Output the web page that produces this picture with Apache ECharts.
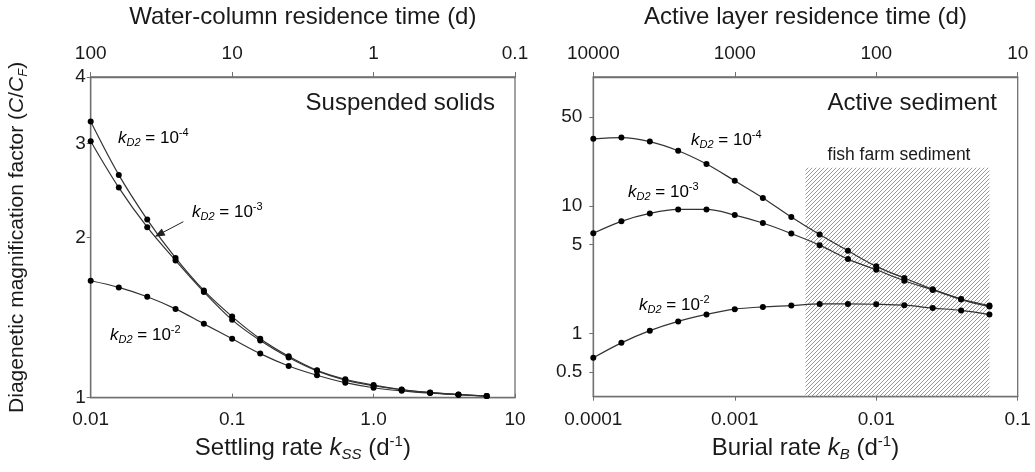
<!DOCTYPE html>
<html>
<head>
<meta charset="utf-8">
<script src="https://cdn.jsdelivr.net/npm/echarts@6/dist/echarts.min.js"></script>
<style>
html,body{margin:0;padding:0;background:#fff;}
#chart{width:1035px;height:472px;}
</style>
</head>
<body>
<div id="chart"></div>
<script>
// ---- data ----
const kSS = [0.01, 0.0158, 0.0251, 0.0398, 0.0631, 0.1, 0.158, 0.251, 0.398, 0.631, 1.0, 1.58, 2.51, 3.98, 6.31];
const kB = [0.0001, 0.000158, 0.000251, 0.000398, 0.000631, 0.001, 0.00158, 0.00251, 0.00398, 0.00631, 0.01, 0.0158, 0.0251, 0.0398, 0.0631];

const suspended_kD2_1e4 = [3.30, 2.62, 2.16, 1.83, 1.59, 1.42, 1.29, 1.196, 1.126, 1.083, 1.056, 1.036, 1.023, 1.014, 1.007];
const suspended_kD2_1e3 = [3.03, 2.48, 2.09, 1.81, 1.58, 1.40, 1.28, 1.19, 1.123, 1.079, 1.053, 1.035, 1.022, 1.013, 1.007];
const suspended_kD2_1e2 = [1.658, 1.611, 1.547, 1.468, 1.376, 1.290, 1.210, 1.147, 1.102, 1.067, 1.044, 1.030, 1.020, 1.013, 1.007];

const active_kD2_1e4 = [33.7, 34.5, 32.1, 27.2, 21.4, 15.8, 11.6, 8.21, 5.98, 4.46, 3.37, 2.73, 2.23, 1.87, 1.66];
const active_kD2_1e3 = [6.12, 7.6, 8.77, 9.42, 9.42, 8.51, 7.37, 6.09, 4.94, 3.84, 3.17, 2.60, 2.20, 1.85, 1.63];
const active_kD2_1e2 = [0.646, 0.846, 1.055, 1.247, 1.414, 1.556, 1.62, 1.66, 1.71, 1.71, 1.70, 1.67, 1.585, 1.52, 1.41];

// fish farm sediment range (burial rate) and upper bound of shaded box
const fishFarmRange = [0.00316, 0.0631];
const fishFarmTop = 20;

// tick labels
const leftBottomTicks = [0.01, 0.1, 1, 10];
const leftBottomLabels = ['0.01', '0.1', '1.0', '10'];
const leftTopTicks = [100, 10, 1, 0.1];
const leftTopLabels = ['100', '10', '1', '0.1'];
const leftYTicks = [1, 2, 3, 4];
const rightBottomTicks = [0.0001, 0.001, 0.01, 0.1];
const rightBottomLabels = ['0.0001', '0.001', '0.01', '0.1'];
const rightTopTicks = [10000, 1000, 100, 10];
const rightTopLabels = ['10000', '1000', '100', '10'];
const rightYTicks = [0.5, 1, 5, 10, 50];
const rightYLabels = ['0.5', '1', '5', '10', '50'];

// ---- rendering ----
const FONT = '"Liberation Sans", Arial, Helvetica, sans-serif';
const TXT = '#1a1a1a';
const AXC = '#707070';
const LINEC = '#333333';

function labelFor(ticks, labels) {
  return function (v) {
    for (let i = 0; i < ticks.length; i++) {
      if (Math.abs(Math.log10(v) - Math.log10(ticks[i])) < 1e-6) return labels[i];
    }
    return '';
  };
}

function richStyles(size) {
  const s = Math.round(size * 0.62);
  return {
    t: { fontSize: size, fontFamily: FONT, color: TXT, lineHeight: size + 4 },
    i: { fontSize: size, fontFamily: FONT, color: TXT, fontStyle: 'italic', lineHeight: size + 4 },
    sub: { fontSize: s, fontFamily: FONT, color: TXT, fontStyle: 'italic', lineHeight: s, verticalAlign: 'bottom' },
    subn: { fontSize: s, fontFamily: FONT, color: TXT, lineHeight: s, verticalAlign: 'bottom' },
    sup: { fontSize: s, fontFamily: FONT, color: TXT, lineHeight: s, verticalAlign: 'top' }
  };
}

function axisCommon(extra) {
  return Object.assign({
    type: 'log',
    logBase: 10,
    axisLine: { show: true, onZero: false, lineStyle: { color: AXC, width: 1.3 } },
    splitLine: { show: false },
    minorTick: { show: false }
  }, extra);
}

// hatch pattern
const pc = document.createElement('canvas');
pc.width = 4; pc.height = 4;
const pctx = pc.getContext('2d');
pctx.strokeStyle = '#8c8c8c';
pctx.lineWidth = 0.9;
pctx.beginPath();
pctx.moveTo(0, 4); pctx.lineTo(4, 0);
pctx.moveTo(-1, 1); pctx.lineTo(1, -1);
pctx.moveTo(3, 5); pctx.lineTo(5, 3);
pctx.stroke();

function lineSeries(name, xi, yi, xs, ys, extra) {
  return Object.assign({
    name: name,
    type: 'line',
    xAxisIndex: xi,
    yAxisIndex: yi,
    data: xs.map((x, i) => [x, ys[i]]),
    smooth: 0.35,
    symbol: 'circle',
    symbolSize: 6,
    itemStyle: { color: '#000' },
    lineStyle: { color: LINEC, width: 1.2 },
    z: 3,
    silent: true
  }, extra || {});
}

function kLabel(x, y, exp) {
  return {
    type: 'text', x: x, y: y, z: 10,
    style: {
      text: '{i|k}{sub|D2}{t| = 10}{sup|' + exp + '}',
      rich: richStyles(17),
      textVerticalAlign: 'middle',
      textAlign: 'left'
    }
  };
}

const chart = echarts.init(document.getElementById('chart'), null, { renderer: 'canvas' });

const option = {
  backgroundColor: '#fff',
  animation: false,
  grid: [
    { left: 90.7, top: 75, width: 424.3, height: 322.7, show: true, borderColor: AXC, borderWidth: 1.3, containLabel: false },
    { left: 593.3, top: 75, width: 424.4, height: 321.7, show: true, borderColor: AXC, borderWidth: 1.3, containLabel: false }
  ],
  xAxis: [
    axisCommon({
      gridIndex: 0, position: 'bottom', min: 0.01, max: 10,
      axisTick: { show: true, length: 4, inside: true, customValues: leftBottomTicks, lineStyle: { color: AXC } },
      axisLabel: { customValues: leftBottomTicks, formatter: labelFor(leftBottomTicks, leftBottomLabels), margin: 13, fontSize: 19, fontFamily: FONT, color: TXT },
      name: '{t|Settling rate }{i|k}{sub|SS}{t| (d}{sup|-1}{t|)}',
      nameLocation: 'middle', nameGap: 36,
      nameTextStyle: { rich: richStyles(24) }
    }),
    axisCommon({
      gridIndex: 0, position: 'top', inverse: true, min: 0.1, max: 100,
      axisTick: { show: true, length: 5, customValues: leftTopTicks, lineStyle: { color: AXC } },
      axisLabel: { customValues: leftTopTicks, formatter: labelFor(leftTopTicks, leftTopLabels), margin: 14, fontSize: 19, fontFamily: FONT, color: TXT },
      name: 'Water-column residence time (d)',
      nameLocation: 'middle', nameGap: 48,
      nameTextStyle: { fontSize: 24, fontFamily: FONT, color: TXT }
    }),
    axisCommon({
      gridIndex: 1, position: 'bottom', min: 0.0001, max: 0.1,
      axisTick: { show: true, length: 4, customValues: rightBottomTicks, lineStyle: { color: AXC } },
      axisLabel: { customValues: rightBottomTicks, formatter: labelFor(rightBottomTicks, rightBottomLabels), margin: 14, fontSize: 19, fontFamily: FONT, color: TXT },
      name: '{t|Burial rate }{i|k}{sub|B}{t| (d}{sup|-1}{t|)}',
      nameLocation: 'middle', nameGap: 36,
      nameTextStyle: { rich: richStyles(24) }
    }),
    axisCommon({
      gridIndex: 1, position: 'top', inverse: true, min: 10, max: 10000,
      axisTick: { show: true, length: 5, customValues: rightTopTicks, lineStyle: { color: AXC } },
      axisLabel: { customValues: rightTopTicks, formatter: labelFor(rightTopTicks, rightTopLabels), margin: 14, fontSize: 19, fontFamily: FONT, color: TXT },
      name: 'Active layer residence time (d)',
      nameLocation: 'middle', nameGap: 48,
      nameTextStyle: { fontSize: 24, fontFamily: FONT, color: TXT }
    })
  ],
  yAxis: [
    axisCommon({
      gridIndex: 0, min: 1, max: 4,
      axisTick: { show: true, length: 4, customValues: leftYTicks, lineStyle: { color: AXC } },
      axisLabel: { customValues: leftYTicks, margin: 5, fontSize: 19, fontFamily: FONT, color: TXT },
      name: '{t|Diagenetic magnification factor (}{i|C}{t|/}{i|C}{sub|F}{t|)}',
      nameLocation: 'middle', nameGap: 61, nameRotate: 90,
      nameTextStyle: { rich: richStyles(21) }
    }),
    axisCommon({
      gridIndex: 1, min: 0.32, max: 103,
      axisTick: { show: true, length: 4, customValues: rightYTicks, lineStyle: { color: AXC } },
      axisLabel: { customValues: rightYTicks, formatter: labelFor(rightYTicks, rightYLabels), margin: 11, fontSize: 19, fontFamily: FONT, color: TXT }
    })
  ],
  series: [
    lineSeries('kD2=1e-4 suspended', 0, 0, kSS, suspended_kD2_1e4),
    lineSeries('kD2=1e-3 suspended', 0, 0, kSS, suspended_kD2_1e3, {
      markLine: {
        silent: true,
        symbol: ['none', 'triangle'],
        symbolSize: [8, 10],
        label: { show: false },
        lineStyle: { color: '#222', width: 1, type: 'solid' },
        data: [[{ coord: [0.0452, 2.14] }, { coord: [0.0305, 2.026] }]]
      }
    }),
    lineSeries('kD2=1e-2 suspended', 0, 0, kSS, suspended_kD2_1e2),
    {
      name: 'fish farm sediment',
      type: 'line',
      xAxisIndex: 2, yAxisIndex: 1,
      data: [],
      z: 1,
      silent: true,
      markArea: {
        silent: true,
        itemStyle: { color: { image: pc, repeat: 'repeat' } },
        data: [[{ coord: [fishFarmRange[0], 0.32] }, { coord: [fishFarmRange[1], fishFarmTop] }]]
      }
    },
    lineSeries('kD2=1e-4 active', 2, 1, kB, active_kD2_1e4),
    lineSeries('kD2=1e-3 active', 2, 1, kB, active_kD2_1e3),
    lineSeries('kD2=1e-2 active', 2, 1, kB, active_kD2_1e2)
  ],
  graphic: [
    { type: 'text', x: 495, y: 103, z: 10, style: { text: 'Suspended solids', fontSize: 24, fontFamily: FONT, fill: TXT, textAlign: 'right', textVerticalAlign: 'middle' } },
    { type: 'text', x: 997, y: 103, z: 10, style: { text: 'Active sediment', fontSize: 24, fontFamily: FONT, fill: TXT, textAlign: 'right', textVerticalAlign: 'middle' } },
    { type: 'text', x: 899, y: 155, z: 10, style: { text: 'fish farm sediment', fontSize: 17.5, fontFamily: FONT, fill: TXT, textAlign: 'center', textVerticalAlign: 'middle' } },
    kLabel(118, 138, '-4'),
    kLabel(192, 212, '-3'),
    kLabel(110, 335, '-2'),
    kLabel(691, 140, '-4'),
    kLabel(628, 192, '-3'),
    kLabel(639, 305, '-2')
  ]
};
chart.setOption(option);
</script>
</body>
</html>
